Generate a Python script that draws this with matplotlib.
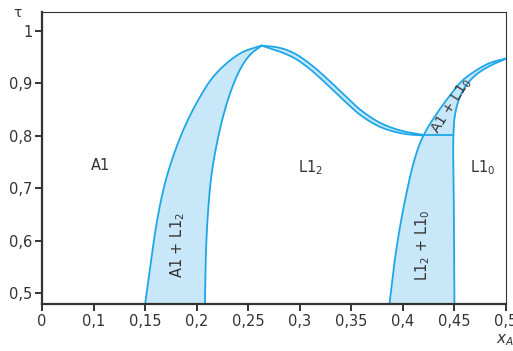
import matplotlib
matplotlib.use("Agg")
import matplotlib.pyplot as plt
import numpy as np
from matplotlib.font_manager import findfont, FontProperties

# ---- data ----
# A1 / (A1+L1_2) boundary
a1_left_t = [0.480, 0.550, 0.626, 0.700, 0.760, 0.820, 0.870, 0.910, 0.940, 0.960, 0.972]
a1_left_x = [0.150, 0.155, 0.1605, 0.168, 0.177, 0.189, 0.202, 0.215, 0.230, 0.245, 0.263]
# (A1+L1_2) / L1_2 boundary
l12_left_t = [0.480, 0.560, 0.640, 0.720, 0.780, 0.840, 0.890, 0.930, 0.955, 0.972]
l12_left_x = [0.208, 0.2087, 0.2105, 0.2140, 0.2190, 0.2260, 0.2340, 0.2430, 0.2520, 0.263]
# narrow band from the peak down to tau = 0.8 (upper and lower lines)
band_up_x = [0.263, 0.280, 0.295, 0.310, 0.326, 0.342, 0.358, 0.375, 0.390, 0.405, 0.420]
band_up_t = [0.972, 0.968, 0.957, 0.937, 0.910, 0.880, 0.851, 0.828, 0.815, 0.807, 0.802]
band_lo_x = [0.263, 0.280, 0.295, 0.310, 0.326, 0.342, 0.358, 0.375, 0.390, 0.405, 0.420]
band_lo_t = [0.972, 0.961, 0.948, 0.927, 0.899, 0.869, 0.841, 0.820, 0.809, 0.803, 0.801]
# L1_2 side of (L1_2+L1_0) continuing as A1 side of (A1+L1_0)
l10_left_t = [0.480, 0.582, 0.677, 0.760, 0.801, 0.843, 0.878, 0.906, 0.926, 0.939, 0.948]
l10_left_x = [0.387, 0.3935, 0.402, 0.412, 0.420, 0.433, 0.446, 0.458, 0.472, 0.4845, 0.501]
# L1_0 side of (L1_2+L1_0) continuing as L1_0 side of (A1+L1_0)
l10_right_t = [0.480, 0.650, 0.801, 0.840, 0.870, 0.895, 0.915, 0.932, 0.948]
l10_right_x = [0.450, 0.4495, 0.449, 0.4505, 0.4545, 0.461, 0.470, 0.483, 0.501]
eutectoid_t = 0.801
eutectoid_x = [0.420, 0.449]

x_ticks = [0.05, 0.10, 0.15, 0.20, 0.25, 0.30, 0.35, 0.40, 0.45, 0.50]
x_ticklabels = ["0", "0,1", "0,15", "0,2", "0,25", "0,3", "0,35", "0,4", "0,45", "0,5"]
y_ticks = [0.5, 0.6, 0.7, 0.8, 0.9, 1.0]
y_ticklabels = ["0,5", "0,6", "0,7", "0,8", "0,9", "1"]

# ---- style ----
line_c = "#1ea6e6"
fill_c = "#c8e8f9"
ink = "#333333"
fam = "Liberation Sans Narrow"
try:
    findfont(FontProperties(family=fam), fallback_to_default=False)
except Exception:
    fam = "DejaVu Sans"
plt.rcParams["font.family"] = [fam, "DejaVu Sans"]

fig = plt.figure(figsize=(5.13, 3.51), dpi=100)
ax = fig.add_axes([42 / 513, 1 - 304 / 351, 464 / 513, 292 / 351])
ax.set_xlim(0.05, 0.5)
ax.set_ylim(0.480, 1.036)

# aspect scaling so the spline works in (roughly) pixel space
SX, SY = 1031.0, 524.0


def smooth(xs, ts, n=25):
    """Centripetal Catmull-Rom through the read points."""
    P = np.column_stack([np.asarray(xs) * SX, np.asarray(ts) * SY])
    if len(P) < 3:
        return np.asarray(xs, float), np.asarray(ts, float)
    P = np.vstack([2 * P[0] - P[1], P, 2 * P[-1] - P[-2]])
    out = []
    for i in range(1, len(P) - 2):
        p0, p1, p2, p3 = P[i - 1], P[i], P[i + 1], P[i + 2]

        def tj(ti, a, b):
            return ti + max(np.linalg.norm(b - a), 1e-6) ** 0.5
        t0 = 0.0
        t1 = tj(t0, p0, p1)
        t2 = tj(t1, p1, p2)
        t3 = tj(t2, p2, p3)
        t = np.linspace(t1, t2, n, endpoint=(i == len(P) - 3))[:, None]
        A1 = (t1 - t) / (t1 - t0) * p0 + (t - t0) / (t1 - t0) * p1
        A2 = (t2 - t) / (t2 - t1) * p1 + (t - t1) / (t2 - t1) * p2
        A3 = (t3 - t) / (t3 - t2) * p2 + (t - t2) / (t3 - t2) * p3
        B1 = (t2 - t) / (t2 - t0) * A1 + (t - t0) / (t2 - t0) * A2
        B2 = (t3 - t) / (t3 - t1) * A2 + (t - t1) / (t3 - t1) * A3
        C = (t2 - t) / (t2 - t1) * B1 + (t - t1) / (t2 - t1) * B2
        out.append(C)
    C = np.vstack(out)
    return C[:, 0] / SX, C[:, 1] / SY


curves = {}
for name, (xs, ts) in {
    "a1l": (a1_left_x, a1_left_t), "l12l": (l12_left_x, l12_left_t),
    "bu": (band_up_x, band_up_t), "bl": (band_lo_x, band_lo_t),
    "l10l": (l10_left_x, l10_left_t), "l10r": (l10_right_x, l10_right_t),
}.items():
    curves[name] = smooth(xs, ts)


def region(c1, c2):
    (lx, lt), (rx, rt) = c1, c2
    lo = max(lt.min(), rt.min())
    hi = min(lt.max(), rt.max())
    tt = np.linspace(lo, hi, 400)
    il = np.argsort(lt)
    ir = np.argsort(rt)
    xl = np.interp(tt, lt[il], lx[il])
    xr = np.interp(tt, rt[ir], rx[ir])
    ax.fill_betweenx(tt, xl, xr, color=fill_c, lw=0, zorder=1)


region(curves["a1l"], curves["l12l"])
region(curves["l10l"], curves["l10r"])
bux, but = curves["bu"]
blx, blt = curves["bl"]
ax.fill(np.concatenate([bux, blx[::-1]]), np.concatenate([but, blt[::-1]]),
        color=fill_c, lw=0, zorder=1)

for name, (xs, ts) in curves.items():
    ax.plot(xs, ts, color=line_c, lw=1.3, zorder=2, solid_capstyle="round")
ax.plot(eutectoid_x, [eutectoid_t, eutectoid_t], color=line_c, lw=1.3, zorder=2)

for s in ["top", "right", "left", "bottom"]:
    ax.spines[s].set_color(ink)
ax.spines["left"].set_linewidth(1.6)
ax.spines["bottom"].set_linewidth(1.6)
ax.spines["top"].set_linewidth(0.8)
ax.spines["right"].set_linewidth(0.8)

ax.set_xticks(x_ticks)
ax.set_xticklabels(x_ticklabels)
ax.set_yticks(y_ticks)
ax.set_yticklabels(y_ticklabels)
ax.tick_params(axis="both", direction="out", length=5, width=1.4, color=ink,
               labelcolor=ink, labelsize=10.5, pad=2)

fs = 10.5
ax.text(0.107, 0.744, "A1", ha="center", va="center", color=ink, fontsize=fs)
ax.text(0.310, 0.740, "L1$_2$", ha="center", va="center", color=ink, fontsize=fs)
ax.text(0.477, 0.740, "L1$_0$", ha="center", va="center", color=ink, fontsize=fs)
ax.text(0.182, 0.592, "A1 + L1$_2$", ha="center", va="center", color=ink,
        fontsize=fs, rotation=90)
ax.text(0.4195, 0.592, "L1$_2$ + L1$_0$", ha="center", va="center", color=ink,
        fontsize=fs, rotation=90)
ax.text(0.4476, 0.857, "A1 + L1$_0$", ha="center", va="center", color=ink,
        fontsize=fs - 0.5, rotation=58)

fig.text(18 / 513, 1 - 13 / 351, "τ", ha="center", va="center", color=ink, fontsize=10)
fig.text(496 / 513, 1 - 340 / 351, "$x_A$", ha="left", va="center", color=ink, fontsize=11)

fig.savefig("out.png", dpi=100)
